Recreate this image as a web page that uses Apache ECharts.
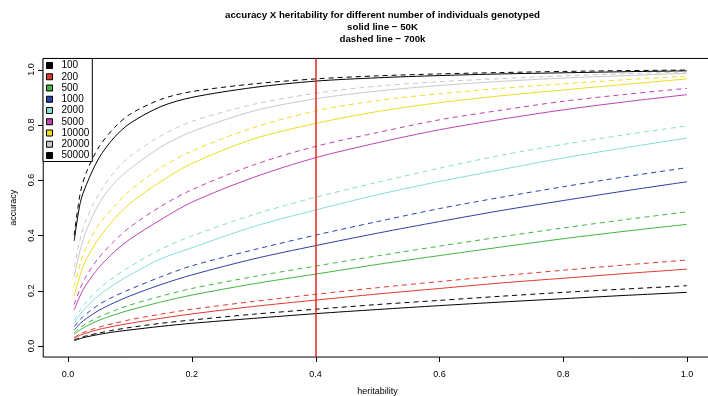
<!DOCTYPE html>
<html>
<head>
<meta charset="utf-8">
<script src="https://cdn.jsdelivr.net/npm/echarts@6/dist/echarts.min.js"></script>
<style>
html,body{margin:0;padding:0;background:#fff;}
#chart{width:708px;height:396px;}
</style>
</head>
<body>
<div id="chart"></div>
<script>
// heritability values (x)
const heritability = [0.01, 0.02, 0.03, 0.05, 0.075, 0.1, 0.15, 0.2, 0.3, 0.4, 0.5, 0.6, 0.7, 0.8, 0.9, 1.0];
const groupNames = ['100', '200', '500', '1000', '2000', '5000', '10000', '20000', '50000'];
const groupColors = ['#000000', '#E2382C', '#3EB83E', '#2A40A8', '#86DDD6', '#C040B8', '#EEDD22', '#C8C8C8', '#000000'];
const xTicks = [0, 0.2, 0.4, 0.6, 0.8, 1.0];
const yTicks = [0, 0.2, 0.4, 0.6, 0.8, 1.0];
const markerLine = 0.4;

// solid line - 50K
const solid100   = [0.019, 0.027, 0.033, 0.042, 0.051, 0.058, 0.071, 0.082, 0.100, 0.117, 0.132, 0.146, 0.159, 0.171, 0.183, 0.194];
const solid200   = [0.028, 0.039, 0.047, 0.060, 0.072, 0.082, 0.100, 0.116, 0.143, 0.166, 0.188, 0.208, 0.228, 0.245, 0.262, 0.278];
const solid500   = [0.042, 0.059, 0.072, 0.093, 0.113, 0.130, 0.159, 0.184, 0.225, 0.260, 0.295, 0.327, 0.358, 0.388, 0.415, 0.440];
const solid1000  = [0.058, 0.082, 0.100, 0.129, 0.157, 0.181, 0.222, 0.257, 0.315, 0.363, 0.408, 0.450, 0.490, 0.526, 0.561, 0.594];
const solid2000  = [0.082, 0.116, 0.142, 0.183, 0.223, 0.257, 0.315, 0.355, 0.432, 0.492, 0.547, 0.595, 0.638, 0.680, 0.717, 0.752];
const solid5000  = [0.130, 0.184, 0.224, 0.284, 0.341, 0.386, 0.457, 0.520, 0.610, 0.681, 0.735, 0.782, 0.820, 0.854, 0.883, 0.909];
const solid10000 = [0.180, 0.260, 0.315, 0.390, 0.460, 0.515, 0.595, 0.660, 0.749, 0.805, 0.848, 0.880, 0.905, 0.926, 0.946, 0.966];
const solid20000 = [0.250, 0.350, 0.420, 0.515, 0.590, 0.640, 0.720, 0.775, 0.850, 0.894, 0.922, 0.942, 0.957, 0.969, 0.978, 0.986];
const solid50000 = [0.380, 0.520, 0.585, 0.680, 0.755, 0.805, 0.866, 0.899, 0.935, 0.958, 0.970, 0.978, 0.984, 0.988, 0.992, 0.995];

// dashed line - 700k
const dashed100   = [0.022, 0.030, 0.037, 0.047, 0.058, 0.067, 0.082, 0.094, 0.115, 0.133, 0.150, 0.165, 0.180, 0.194, 0.206, 0.218];
const dashed200   = [0.031, 0.044, 0.053, 0.068, 0.082, 0.095, 0.115, 0.133, 0.161, 0.187, 0.211, 0.233, 0.254, 0.274, 0.293, 0.311];
const dashed500   = [0.048, 0.067, 0.082, 0.105, 0.128, 0.148, 0.180, 0.208, 0.251, 0.289, 0.326, 0.361, 0.395, 0.427, 0.457, 0.485];
const dashed1000  = [0.070, 0.097, 0.117, 0.150, 0.180, 0.205, 0.250, 0.290, 0.348, 0.401, 0.450, 0.497, 0.538, 0.576, 0.612, 0.645];
const dashed2000  = [0.094, 0.132, 0.161, 0.207, 0.250, 0.287, 0.350, 0.398, 0.475, 0.538, 0.592, 0.643, 0.690, 0.729, 0.764, 0.796];
const dashed5000  = [0.150, 0.210, 0.255, 0.320, 0.380, 0.430, 0.505, 0.565, 0.655, 0.722, 0.772, 0.818, 0.853, 0.885, 0.910, 0.932];
const dashed10000 = [0.215, 0.300, 0.360, 0.440, 0.505, 0.562, 0.645, 0.705, 0.790, 0.850, 0.888, 0.912, 0.932, 0.948, 0.963, 0.976];
const dashed20000 = [0.285, 0.390, 0.460, 0.550, 0.630, 0.685, 0.760, 0.812, 0.874, 0.914, 0.940, 0.956, 0.967, 0.977, 0.985, 0.991];
const dashed50000 = [0.400, 0.555, 0.630, 0.720, 0.790, 0.838, 0.892, 0.920, 0.948, 0.966, 0.977, 0.984, 0.989, 0.993, 0.996, 0.998];

const solidSets  = [solid100, solid200, solid500, solid1000, solid2000, solid5000, solid10000, solid20000, solid50000];
const dashedSets = [dashed100, dashed200, dashed500, dashed1000, dashed2000, dashed5000, dashed10000, dashed20000, dashed50000];

const FONT = '"Liberation Sans", Arial, Helvetica, sans-serif';
const X_MIN = -0.04, X_MAX = 1.04, Y_MIN = -0.04, Y_MAX = 1.04;
const TICK_LEN = 5;
const pair = vals => heritability.map((h, i) => [h, vals[i]]);

const series = [];
groupNames.forEach((name, g) => {
  series.push({
    name: name, type: 'line', data: pair(solidSets[g]), showSymbol: false,
    xAxisIndex: 0, yAxisIndex: 0,
    smooth: 0.3, silent: true,
    lineStyle: { color: groupColors[g], width: 1, type: 'solid' },
    itemStyle: { color: groupColors[g], borderColor: '#000', borderWidth: 1 }, z: 3
  });
});
groupNames.forEach((name, g) => {
  series.push({
    name: name + ' (700k)', type: 'line', data: pair(dashedSets[g]), showSymbol: false,
    xAxisIndex: 0, yAxisIndex: 0,
    smooth: 0.3, silent: true,
    lineStyle: { color: groupColors[g], width: 1, type: [5, 4] },
    itemStyle: { color: groupColors[g] }, z: 3
  });
});
series[0].markLine = {
  silent: true, symbol: ['none', 'none'], label: { show: false },
  lineStyle: { color: '#E3261F', width: 1.5, type: 'solid' },
  data: [{ xAxis: markerLine }], z: 5
};
// outward tick marks on the box edges, placed through the axes' own scales
series.push({
  name: 'xticks', type: 'custom', xAxisIndex: 0, yAxisIndex: 0, silent: true, clip: false, z: 6,
  data: xTicks.map(v => [v, Y_MIN]),
  renderItem: (params, api) => {
    const p = api.coord([api.value(0), api.value(1)]);
    const x = Math.round(p[0]) + 0.5, y = Math.round(p[1]);
    return { type: 'line', shape: { x1: x, y1: y, x2: x, y2: y + TICK_LEN }, style: { stroke: '#000', lineWidth: 1 } };
  }
});
series.push({
  name: 'yticks', type: 'custom', xAxisIndex: 0, yAxisIndex: 0, silent: true, clip: false, z: 6,
  data: yTicks.map(v => [X_MIN, v]),
  renderItem: (params, api) => {
    const p = api.coord([api.value(0), api.value(1)]);
    const x = Math.round(p[0]), y = Math.round(p[1]) + 0.5;
    return { type: 'line', shape: { x1: x - TICK_LEN, y1: y, x2: x, y2: y }, style: { stroke: '#000', lineWidth: 1 } };
  }
});

const hiddenAxis = { axisLine: { show: false }, axisTick: { show: false }, axisLabel: { show: false }, splitLine: { show: false } };
const noGrid = { outerBoundsMode: 'none', containLabel: false, show: false };

const chart = echarts.init(document.getElementById('chart'), null, { renderer: 'canvas' });
chart.setOption({
  animation: false,
  backgroundColor: '#fff',
  title: {
    text: 'accuracy X heritability for different number of individuals genotyped\nsolid line \u2212 50K\ndashed line \u2212 700k',
    left: 377.5, top: 4, textAlign: 'center',
    textStyle: { fontFamily: FONT, fontSize: 9.7, fontWeight: 'bold', lineHeight: 12, color: '#000' }
  },
  legend: {
    data: groupNames.map((n, g) => ({ name: n, icon: 'rect',
      itemStyle: { color: groupColors[g], borderColor: '#000', borderWidth: 1 } })),
    orient: 'vertical', left: 43, top: 58.5,
    itemWidth: 6, itemHeight: 6, itemGap: 0.25,
    padding: [1.5, 3, 0.5, 3],
    borderColor: '#000', borderWidth: 1, backgroundColor: '#fff',
    selectedMode: false,
    textStyle: { fontFamily: FONT, fontSize: 10, lineHeight: 11, color: '#000', padding: [0, 0, 0, 4] },
    z: 10
  },
  grid: [
    // plotting box (data range extended 4% like R)
    { left: 43.24, right: -3.76, top: 58.44, bottom: 38.94, outerBoundsMode: 'none', containLabel: false,
      show: true, borderColor: '#000', borderWidth: 1, backgroundColor: 'transparent' },
    // frame for the x labels: x spans 0..1, bottom edge on the box
    Object.assign({ left: 68, right: 21, top: 58.44, bottom: 38.94 }, noGrid),
    // frame for the y labels: y spans 0..1, left edge on the box
    Object.assign({ left: 43.24, right: -3.76, top: 69.5, bottom: 50 }, noGrid)
  ],
  xAxis: [
    Object.assign({ type: 'value', gridIndex: 0, min: X_MIN, max: X_MAX }, hiddenAxis),
    {
      type: 'value', gridIndex: 1, min: 0, max: 1, interval: 0.2, position: 'bottom',
      name: 'heritability', nameLocation: 'middle', nameGap: 30,
      nameTextStyle: { fontFamily: FONT, fontSize: 9, color: '#000' },
      axisLine: { show: false },
      axisTick: { show: false },
      axisLabel: { formatter: v => v.toFixed(1), margin: 13, fontFamily: FONT, fontSize: 9, color: '#000' },
      splitLine: { show: false }
    },
    Object.assign({ type: 'value', gridIndex: 2, min: 1, max: 2 }, hiddenAxis)
  ],
  yAxis: [
    Object.assign({ type: 'value', gridIndex: 0, min: Y_MIN, max: Y_MAX }, hiddenAxis),
    Object.assign({ type: 'value', gridIndex: 1, min: 1, max: 2 }, hiddenAxis),
    {
      type: 'value', gridIndex: 2, min: 0, max: 1, interval: 0.2, position: 'left',
      name: 'accuracy', nameLocation: 'middle', nameGap: 25, nameRotate: 90,
      nameTextStyle: { fontFamily: FONT, fontSize: 9, color: '#000' },
      axisLine: { show: false },
      axisTick: { show: false },
      axisLabel: { formatter: v => v.toFixed(1), rotate: 90, margin: 7, fontFamily: FONT, fontSize: 9, color: '#000' },
      splitLine: { show: false }
    }
  ],
  series: series
});
</script>
</body>
</html>
